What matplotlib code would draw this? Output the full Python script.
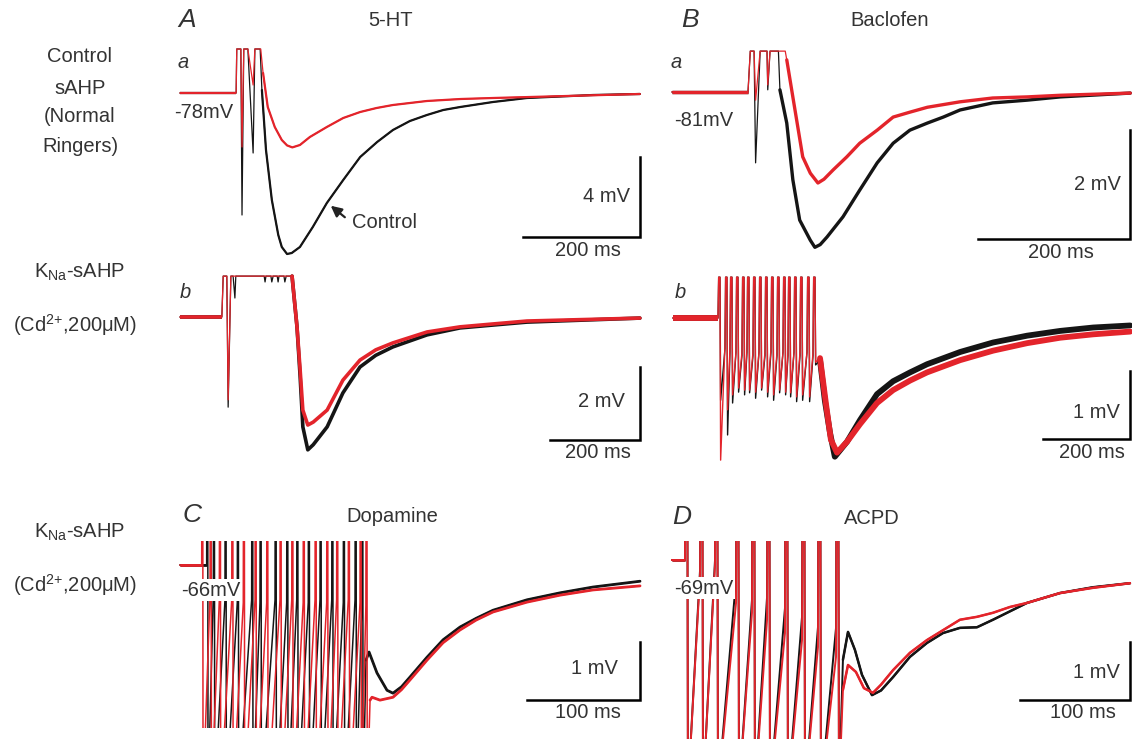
import matplotlib
matplotlib.use("Agg")
import matplotlib.pyplot as plt
import numpy as np

# --- traces (time in ms, voltage in mV relative to rest) ---

# A-a : 5-HT, control sAHP
aa_black_t = [0, 96, 97, 104, 106, 109, 116, 125, 128, 137, 140, 147, 157, 168, 174, 183, 191, 205, 227,
              251, 279, 308, 337, 364, 393, 422, 450, 479, 535, 593, 706, 786]
aa_black_v = [0, 0, 2.2, 2.2, -6.1, 2.2, 2.2, -3.0, 2.2, 2.2, 0.15, -2.85, -5.35, -7.1, -7.7, -8.05, -8.0,
              -7.7, -6.7, -5.5, -4.35, -3.2, -2.45, -1.85, -1.4, -1.1, -0.85, -0.7, -0.45, -0.25, -0.1, -0.05]
aa_red_t = [0, 96, 97, 104, 106, 109, 116, 125, 128, 138, 142, 150, 162, 174, 183, 192, 205, 222, 251,
            279, 308, 336, 364, 422, 480, 535, 786]
aa_red_v = [0, 0, 2.2, 2.2, -2.7, 2.2, 2.2, 0.4, 2.2, 2.2, 1.0, -0.7, -1.7, -2.35, -2.62, -2.72, -2.6,
            -2.2, -1.7, -1.25, -0.95, -0.75, -0.6, -0.4, -0.3, -0.25, -0.05]

# B-a : Baclofen, control sAHP
ba_black_t = [0, 100, 103, 108, 110, 116, 125, 126, 129, 140, 142, 151, 159, 168, 182, 188, 195, 204,
              225, 247, 270, 291, 313, 336, 357, 379, 422, 467, 511, 603]
ba_black_v = [0, 0, 0.75, 0.75, -1.30, 0.75, 0.75, 0.04, 0.75, 0.75, 0.04, -0.57, -1.61, -2.35, -2.72,
              -2.85, -2.8, -2.66, -2.29, -1.80, -1.30, -0.94, -0.70, -0.57, -0.46, -0.33, -0.20, -0.15,
              -0.09, -0.02]
ba_red_t = [0, 100, 103, 108, 110, 116, 125, 126, 129, 149, 151, 159, 172, 182, 192, 200, 212, 230, 247,
            270, 291, 313, 336, 379, 422, 467, 511, 603]
ba_red_v = [0, 0, 0.75, 0.75, -0.15, 0.75, 0.75, 0.13, 0.75, 0.75, 0.59, -0.09, -1.19, -1.49, -1.67,
            -1.6, -1.43, -1.19, -0.94, -0.70, -0.46, -0.37, -0.28, -0.18, -0.11, -0.09, -0.06, -0.02]

# A-b : 5-HT, KNa-sAHP
ab_black_t = [0, 93, 96, 104, 107, 113, 118, 122, 124, 187, 189, 191, 202, 204, 207, 216, 218, 220, 231,
              233, 236, 249, 260, 267, 273, 284, 296, 327, 362, 400, 435, 473, 549, 622, 696, 771, 1022]
ab_black_v = [0, 0, 1.12, 1.12, -2.47, 1.12, 1.12, 0.52, 1.12, 1.12, 0.96, 1.12, 1.12, 0.96, 1.12, 1.12,
              0.96, 1.12, 1.12, 0.96, 1.12, 1.12, -0.27, -1.64, -3.01, -3.64, -3.5, -3.01, -2.08, -1.37,
              -1.05, -0.82, -0.49, -0.30, -0.22, -0.14, -0.03]
ab_red_t = [0, 93, 96, 104, 107, 113, 249, 260, 267, 273, 284, 296, 327, 362, 400, 435, 473, 549, 622,
            696, 771, 1022]
ab_red_v = [0, 0, 1.12, 1.12, -2.27, 1.12, 1.12, -0.27, -1.45, -2.55, -2.96, -2.88, -2.55, -1.73, -1.18,
            -0.9, -0.71, -0.41, -0.27, -0.19, -0.11, -0.03]

# B-b : Baclofen, KNa-sAHP (spike train + tail)
bb_spike_t = [103.5, 119.5, 131.0, 144.8, 158.6, 170.1, 183.9, 197.7, 211.5, 225.3, 239.1, 252.9, 264.4,
              278.2, 292.0, 308.1, 321.9]
bb_black_pre = [0.0, -0.45, -0.5, -0.5, -0.55, -0.5, -0.55, -0.5, -0.55, -0.5, -0.55, -0.5, -0.55, -0.5,
                -0.55, -0.5, -0.55]
bb_red_pre = [0.0, -0.4, -0.45, -0.5, -0.5, -0.45, -0.5, -0.5, -0.5, -0.45, -0.5, -0.5, -0.5, -0.5,
              -0.5, -0.5, -0.5]
bb_black_trough = [-1.21, -1.72, -1.25, -1.09, -1.13, -1.10, -1.18, -1.06, -1.16, -1.21, -1.10, -1.13,
                   -1.16, -1.23, -1.21, -1.23, -0.69]
bb_red_trough = [-2.09, -1.35, -1.13, -1.03, -1.06, -1.06, -1.09, -1.03, -1.09, -1.13, -1.06, -1.09,
                 -1.10, -1.16, -1.13, -1.16, -0.65]
bb_black_tail_t = [338, 349, 361, 372, 400, 430, 469, 506, 545, 584, 660, 736, 814, 890, 966, 1051]
bb_black_tail_v = [-0.62, -1.21, -1.69, -2.04, -1.82, -1.50, -1.12, -0.93, -0.8, -0.68, -0.5, -0.36,
                   -0.26, -0.19, -0.14, -0.11]
bb_red_tail_t = [338, 352, 363, 377, 400, 430, 469, 506, 545, 584, 660, 736, 814, 890, 966, 1051]
bb_red_tail_v = [-0.59, -1.28, -1.79, -1.98, -1.82, -1.56, -1.25, -1.06, -0.92, -0.8, -0.62, -0.48,
                 -0.37, -0.29, -0.24, -0.2]

# C : Dopamine
c_black_spk = [23.6, 29.5, 39.8, 50.7, 63.4, 70.8, 84.1, 94.4, 103.3, 113.5, 123.9, 134.3, 144.5, 154.9, 160.8]
c_black_pre = [0.0, -0.5, -0.6, -0.65, -0.6, -0.65, -0.6, -0.65, -0.6, -0.65, -0.6, -0.6, -0.65, -0.6, -0.7]
c_red_spk = [19.2, 26.6, 34.8, 45.8, 56.0, 66.4, 76.7, 88.5, 98.9, 109.0, 119.5, 129.8, 138.6, 148.9,
             159.3, 164.5]
c_red_pre = [0.0, -0.5, -0.6, -0.6, -0.65, -0.6, -0.65, -0.6, -0.6, -0.65, -0.6, -0.65, -0.6, -0.6,
             -0.65, -0.7]
c_black_tail_t = [164.6, 167.3, 174.3, 183.2, 188.5, 196.0, 203.6, 218.6, 232.8, 247.8, 262.0, 277.0,
                  307.1, 336.3, 365.5, 407.1]
c_black_tail_v = [-1.64, -1.50, -1.86, -2.16, -2.21, -2.1, -1.93, -1.59, -1.29, -1.07, -0.92, -0.78,
                  -0.60, -0.48, -0.38, -0.28]
c_red_tail_t = [168.2, 169.9, 177.0, 188.5, 196.0, 203.6, 218.6, 232.8, 247.8, 262.0, 277.0, 307.1,
                336.3, 365.5, 407.1]
c_red_tail_v = [-2.33, -2.28, -2.33, -2.28, -2.15, -1.98, -1.64, -1.34, -1.12, -0.95, -0.81, -0.64,
                -0.52, -0.43, -0.36]

# D : ACPD
d_spk = [11.8, 25.5, 39.1, 58.2, 72.7, 86.4, 102.7, 118.2, 132.7, 149.1]
d_black_pre = [0.0, -0.17, 0.0, -0.34, -0.69, -0.64, -0.83, -0.98, -1.16, -1.17]
d_red_pre = [0.0, -0.26, -0.09, -0.74, -0.91, -1.03, -1.26, -1.38, -1.50, -1.67]
d_black_tail_t = [155.4, 160.0, 166.3, 172.7, 181.8, 190.0, 200.9, 216.3, 231.8, 246.3, 261.8, 277.2,
                  291.8, 322.7, 352.7, 382.7, 416.3]
d_black_tail_v = [-1.72, -1.24, -1.55, -1.98, -2.33, -2.25, -2.02, -1.67, -1.43, -1.26, -1.17, -1.16,
                  -1.03, -0.74, -0.57, -0.47, -0.40]
d_red_tail_t = [155.4, 160.0, 167.2, 174.5, 182.7, 190.0, 200.9, 216.3, 231.8, 261.8, 277.2, 291.8,
                307.2, 322.7, 352.7, 382.7, 416.3]
d_red_tail_v = [-2.24, -1.81, -1.93, -2.21, -2.29, -2.15, -1.90, -1.60, -1.38, -1.03, -0.98, -0.91,
                -0.81, -0.74, -0.57, -0.48, -0.40]

W, H = 1132, 739
BLACK = "#151515"
RED = "#e3242b"
TXT = "#333333"

plt.rcParams["font.family"] = "Liberation Sans"
plt.rcParams["mathtext.fontset"] = "custom"
plt.rcParams["mathtext.rm"] = "Liberation Sans"
plt.rcParams["mathtext.it"] = "Liberation Sans:italic"

fig = plt.figure(figsize=(W / 100, H / 100), dpi=100)


def px(x, y):
    return x / W, 1 - y / H


def label(x, y, s, ha="center", size=14.5, **kw):
    fig.text(*px(x, y), s, ha=ha, va="center", fontsize=size, color=TXT, **kw)


def panel(box, origin, scale):
    # box in pixels (left, top, right, bottom), origin = pixel of (0 ms, 0 mV), scale = px/ms, px/mV
    left, top, right, bottom = box
    x0, y0 = origin
    sx, sy = scale
    ax = fig.add_axes([left / W, 1 - bottom / H, (right - left) / W, (bottom - top) / H])
    ax.set_xlim((left - x0) / sx, (right - x0) / sx)
    ax.set_ylim((y0 - bottom) / sy, (y0 - top) / sy)
    ax.axis("off")
    return ax


def draw(ax, t, v, color, lw, tail_from, lw_thin=0.9):
    ax.plot(t, v, color=color, lw=lw_thin, solid_joinstyle="round")
    ax.plot(t[:2], v[:2], color=color, lw=lw, solid_capstyle="butt")
    ax.plot(t[tail_from:], v[tail_from:], color=color, lw=lw, solid_joinstyle="round",
            solid_capstyle="round")


def spike_train(spk_t, pre_v, low_v, top, width):
    low_v = np.broadcast_to(low_v, (len(spk_t),))
    t, v = [0.0], [0.0]
    for ts, pv, lv in zip(spk_t, pre_v, low_v):
        t += [ts, ts + 0.25 * width, ts + 0.75 * width, ts + width]
        v += [pv, top, top, lv]
    return t, v


def scale_bar(ax, t_end, v_low, dt, dv):
    ax.plot([t_end - dt, t_end, t_end], [v_low, v_low, v_low + dv], color="k", lw=1.8,
            solid_joinstyle="miter", clip_on=False)


# ---------------- A a ----------------
ax = panel((170, 40, 650, 265), (180, 93), (0.585, 20))
draw(ax, aa_black_t, aa_black_v, BLACK, 1.6, 10)
draw(ax, aa_red_t, aa_red_v, RED, 1.6, 10)
scale_bar(ax, 786, -7.2, 200, 4)
ax.annotate("", xy=(254, -5.55), xytext=px(347, 219), textcoords="figure fraction",
            arrowprops=dict(arrowstyle="-|>", color="#222222", lw=1.6, mutation_scale=16))
label(352, 222, "Control", ha="left")
label(630, 197, "4 mV", ha="right")
label(588, 251, "200 ms")
label(187, 20, "A", size=19, style="italic")
label(391, 21, "5-HT")
label(183, 62, "a", style="italic")
label(204, 112, "-78mV")

# ---------------- B a ----------------
ax = panel((665, 40, 1132, 265), (672, 92), (0.76, 54.5))
draw(ax, ba_black_t, ba_black_v, BLACK, 2.4, 10)
draw(ax, ba_red_t, ba_red_v, RED, 2.4, 10)
scale_bar(ax, 603, -2.70, 200, 2)
label(1121, 185, "2 mV", ha="right")
label(1061, 252, "200 ms")
label(690, 20, "B", size=19, style="italic")
label(890, 21, "Baclofen")
label(676, 62, "a", style="italic")
label(704, 120, "-81mV")

# ---------------- A b ----------------
ax = panel((170, 268, 650, 470), (180, 317), (0.45, 36.5))
draw(ax, ab_black_t, ab_black_v, BLACK, 2.6, 21)
draw(ax, ab_red_t, ab_red_v, RED, 2.6, 6)
scale_bar(ax, 1022, -3.37, 200, 2)
label(625, 402, "2 mV", ha="right")
label(598, 452, "200 ms")
label(185, 292, "b", style="italic")

# ---------------- B b ----------------
ax = panel((665, 268, 1132, 470), (673, 318), (0.435, 68))
for spk_pre, trough, tail_t, tail_v, col in [
        (bb_black_pre, bb_black_trough, bb_black_tail_t, bb_black_tail_v, BLACK),
        (bb_red_pre, bb_red_trough, bb_red_tail_t, bb_red_tail_v, RED)]:
    t, v = spike_train(bb_spike_t, spk_pre, trough, 0.60, 6.0)
    n = len(t)
    draw(ax, t + tail_t, v + tail_v, col, 4.2, n, lw_thin=1.0)
scale_bar(ax, 1051, -1.78, 200, 1)
label(1120, 412, "1 mV", ha="right")
label(1092, 452, "200 ms")
label(680, 292, "b", style="italic")

# ---------------- C ----------------
ax = panel((170, 541, 650, 728), (180, 565), (1.13, 58))
for spk, pre, tail_t, tail_v, col in [
        (c_black_spk, c_black_pre, c_black_tail_t, c_black_tail_v, BLACK),
        (c_red_spk, c_red_pre, c_red_tail_t, c_red_tail_v, RED)]:
    t, v = spike_train(spk, pre, -4.0, 3.0, 1.2)
    n = len(t)
    draw(ax, t + tail_t, v + tail_v, col, 2.0, n, lw_thin=1.1)
scale_bar(ax, 407, -2.33, 100, 1)
label(618, 668, "1 mV", ha="right")
label(588, 713, "100 ms")
label(192, 515, "C", size=19, style="italic")
label(392, 517, "Dopamine")
fig.text(*px(211, 590), "-66mV", ha="center", va="center", fontsize=14.5, color=TXT,
         bbox=dict(facecolor="white", edgecolor="none", pad=1.0))

# ---------------- D ----------------
ax = panel((665, 541, 1132, 739), (672, 560), (1.1, 58))
for pre, tail_t, tail_v, col in [
        (d_black_pre, d_black_tail_t, d_black_tail_v, BLACK),
        (d_red_pre, d_red_tail_t, d_red_tail_v, RED)]:
    t, v = spike_train(d_spk, pre, -4.0, 3.0, 2.7)
    n = len(t)
    draw(ax, t + tail_t, v + tail_v, col, 1.8, n, lw_thin=1.4)
scale_bar(ax, 416, -2.41, 100, 1)
label(1120, 673, "1 mV", ha="right")
label(1083, 712, "100 ms")
label(682, 517, "D", size=19, style="italic")
label(872, 518, "ACPD")
fig.text(*px(704, 588), "-69mV", ha="center", va="center", fontsize=14.5, color=TXT,
         bbox=dict(facecolor="white", edgecolor="none", pad=1.0))

# ---------------- row labels ----------------
for y, s in [(57, "Control"), (88, "sAHP"), (117, "(Normal"), (147, "Ringers)")]:
    label(80, y, s)
for y0 in (272, 532):
    label(80, y0, r"K$_{\mathrm{Na}}$-sAHP")
    label(75, y0 + 53, r"(Cd$^{2{+}}$,200μM)")

fig.savefig("out.png", dpi=100)
